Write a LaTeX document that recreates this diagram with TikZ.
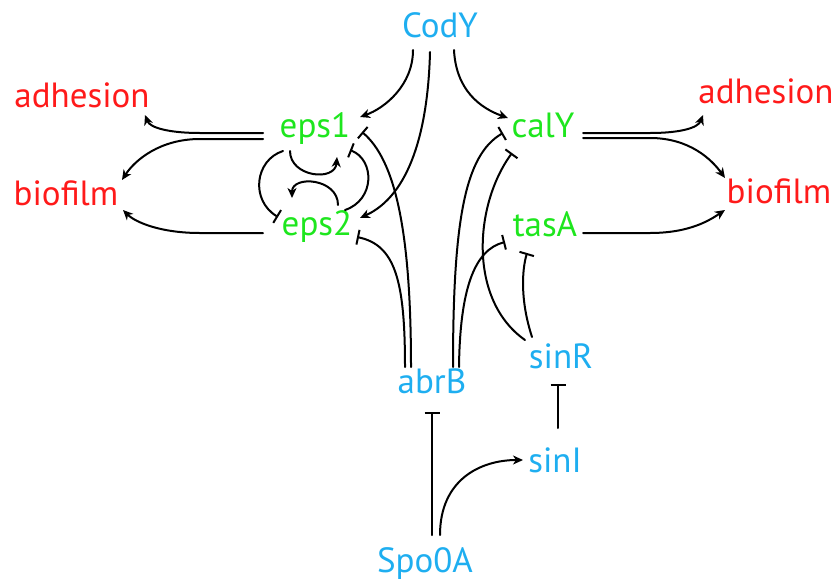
\documentclass[tikz,border=0pt]{standalone}
\usepackage{fontspec}
\setmainfont{PT Sans}
\usetikzlibrary{arrows.meta,calc}
\definecolor{cblue}{HTML}{1EAEF0}
\definecolor{cgreen}{HTML}{1EE61E}
\definecolor{cred}{HTML}{FF1A1A}
\begin{document}
\begin{tikzpicture}[x=1pt,y=-1pt,
  lbl/.style={anchor=base,inner sep=0pt,font=\fontsize{35}{40}\selectfont},
  gene/.style={lbl,text=cblue},
  target/.style={lbl,text=cgreen},
  pheno/.style={lbl,text=cred},
  link/.style={line width=2pt,line cap=round},
  act/.style={link,-{Stealth[length=10pt,width=9pt,inset=3pt]}},
  inh/.style={link,-{Bar[width=15pt,line width=2pt]}}]
\useasboundingbox (0,0) rectangle (840,581);
% nodes
\node[gene]   (CodY)  at (440,37)  {CodY};
\node[pheno]  (adhL)  at (82,107)  {adhesion};
\node[pheno]  (bioL)  at (66,205)  {biofilm};
\node[target] (eps1)  at (315,137) {eps1};
\node[target] (eps2)  at (317,235) {eps2};
\node[target] (calY)  at (543,137) {calY};
\node[target] (tasA)  at (545,236) {tasA};
\node[pheno]  (adhR)  at (766,103) {adhesion};
\node[pheno]  (bioR)  at (779,203) {biofilm};
\node[gene]   (abrB)  at (432,393) {abrB};
\node[gene]   (sinR)  at (561,368) {sinR};
\node[gene]   (sinI)  at (555,472) {sinI};
\node[gene]   (Spo0A) at (425,572) {Spo0A};
% CodY
\draw[act] ($(CodY.base)+(-27,13)$) .. controls (413,85) and (385,108) .. ($(eps1.base)+(45,-20)$);
\draw[act] ($(CodY.base)+(-10,15)$) .. controls (428,130) and (410,195) .. ($(eps2.base)+(43,-17)$);
\draw[act] ($(CodY.base)+(14,13)$) .. controls (456,90) and (480,108) .. ($(calY.base)+(-35,-19)$);
% left phenotypes
\draw[act] ($(eps1.base)+(-52,-4)$) -- (200,133) .. controls (170,133) and (150,128) .. ($(adhL.base)+(63,8)$);
\draw[act] ($(eps1.base)+(-52,2)$) -- (200,139) .. controls (160,139) and (135,160) .. ($(bioL.base)+(56,-25)$);
\draw[act] ($(eps2.base)+(-54,-2)$) -- (200,233) .. controls (160,233) and (135,222) .. ($(bioL.base)+(57,5)$);
% right phenotypes
\draw[act] ($(calY.base)+(40,-4)$) -- (650,133) .. controls (680,133) and (698,128) .. ($(adhR.base)+(-63,12)$);
\draw[act] ($(calY.base)+(40,1)$) -- (650,138) .. controls (690,138) and (712,160) .. ($(bioR.base)+(-54,-25)$);
\draw[act] ($(tasA.base)+(38,-3)$) -- (650,233) .. controls (690,233) and (710,220) .. ($(bioR.base)+(-54,7)$);
% eps loops
\draw[inh] ($(eps1.base)+(-32,14)$) .. controls (255,160) and (250,200) .. ($(eps2.base)+(-39,-18)$);
\draw[act] ($(eps1.base)+(-25,14)$) .. controls (290,177) and (335,182) .. ($(eps1.base)+(22,20)$);
\draw[act] ($(eps2.base)+(21,-30)$) .. controls (338,178) and (292,175) .. ($(eps2.base)+(-25,-37)$);
\draw[inh] ($(eps2.base)+(28,-25)$) .. controls (375,200) and (375,160) .. ($(eps1.base)+(35,13)$);
% abrB
\draw[inh] ($(abrB.base)+(-21,-26)$) .. controls (411,230) and (395,160) .. ($(eps1.base)+(47,-5)$);
\draw[inh] ($(abrB.base)+(-27,-26)$) .. controls (405,280) and (395,245) .. ($(eps2.base)+(40,2)$);
\draw[inh] ($(abrB.base)+(21,-26)$) .. controls (453,220) and (465,155) .. ($(calY.base)+(-40,-4)$);
\draw[inh] ($(abrB.base)+(27,-26)$) .. controls (460,290) and (474,250) .. ($(tasA.base)+(-40,6)$);
% sinR
\draw[inh] ($(sinR.base)+(-36,-28)$) .. controls (468,300) and (474,205) .. ($(calY.base)+(-31,16)$);
\draw[inh] ($(sinR.base)+(-29,-31)$) .. controls (520,300) and (522,270) .. ($(tasA.base)+(-18,17)$);
% Spo0A, sinI
\draw[inh] ($(Spo0A.base)+(7,-37)$) -- ($(abrB.base)+(0,19)$);
\draw[act] ($(Spo0A.base)+(15,-37)$) .. controls (440,480) and (480,460) .. ($(sinI.base)+(-32,-12)$);
\draw[inh] ($(sinI.base)+(3,-44)$) -- ($(sinR.base)+(-3,16)$);
\end{tikzpicture}
\end{document}
